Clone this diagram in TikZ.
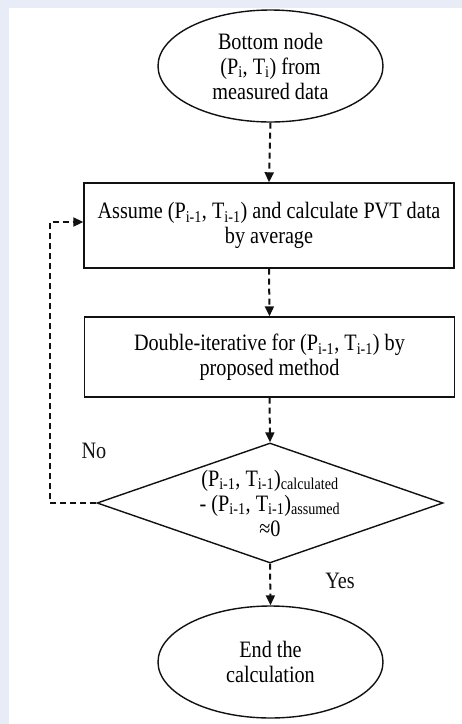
\documentclass[tikz,border=0pt]{standalone}
\usepackage{fontspec}
\setmainfont{Liberation Serif}[FakeStretch=0.86]
\usetikzlibrary{arrows.meta,shapes.geometric}
\definecolor{FCframe}{HTML}{E8ECF6}
\definecolor{FCink}{HTML}{111111}
\newcommand{\sub}[1]{\textsubscript{#1}}

\begin{document}
\begin{tikzpicture}[
  x=1pt,y=-1pt,
  font=\fontsize{23.5}{25}\selectfont,
  line join=miter,
  terminal/.style={ellipse,draw=FCink,line width=1.4pt,align=center,inner sep=0pt,
    minimum width=225pt,minimum height=112pt},
  process/.style={rectangle,draw=FCink,line width=1.4pt,align=center,inner sep=0pt,
    minimum width=370pt},
  decision/.style={diamond,draw=FCink,line width=1.4pt,inner sep=0pt,
    minimum width=346pt,minimum height=120pt},
  flow/.style={draw=FCink,line width=2pt,dash pattern=on 6pt off 4pt,
    -{Triangle[length=10pt,width=9pt]}},
  tag/.style={text=FCink}
]

% frame: tinted margin on the left and top
\useasboundingbox (0,0) rectangle (462,724);
\fill[FCframe] (0,0) rectangle (462,724);
\fill[white] (9,8) rectangle (462,724);

\node[terminal] (start) at (270.5,66) {Bottom node\\(P\sub{i}, T\sub{i}) from\\measured data};
\node[process,minimum height=85pt] (assume) at (269,225.5)
  {Assume (P\sub{i-1}, T\sub{i-1}) and calculate PVT data\\by average};
\node[process,minimum height=80pt] (iterate) at (269.5,357)
  {Double-iterative for (P\sub{i-1}, T\sub{i-1}) by\\proposed method};
\node[decision] (check) at (270,503) {};
\node[align=center,inner sep=0pt] (checktext) at (check.center)
  {(P\sub{i-1}, T\sub{i-1})\sub{calculated}\\- (P\sub{i-1}, T\sub{i-1})\sub{assumed}\\≈0};
\node[terminal] (finish) at (270.5,662) {End the\\calculation};

\draw[flow] (start.south) -- (assume.north);
\draw[flow] (assume.south) -- (iterate.north);
\draw[flow] (iterate.south) -- (check.north);
\draw[flow] (check.south) -- (finish.north);

% back loop when the difference is not small
\coordinate (loop) at (50,222);
\draw[flow] (check.west) -| (loop) -- (loop -| assume.west);

\node[tag] (no) at (94,451) {No};
\node[tag] (yes) at (340,581) {Yes};

\end{tikzpicture}
\end{document}
